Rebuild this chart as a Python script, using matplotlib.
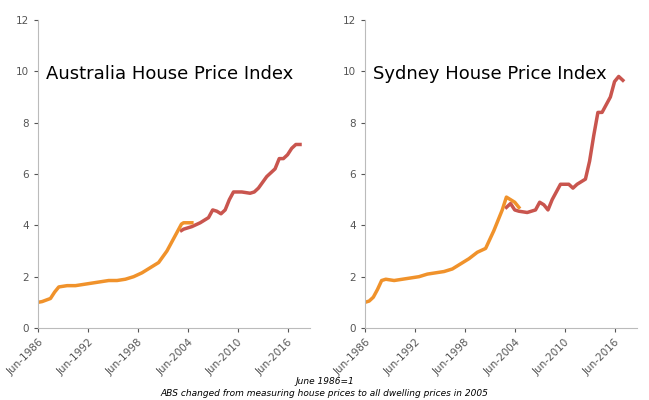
import matplotlib as mpl
mpl.use('Agg')
import matplotlib.pyplot as plt

# years as decimal (Jun-1986 = 1986.5)
aus_old_x = [1986.5, 1987, 1988, 1988.5, 1989, 1990, 1991, 1992, 1993, 1994, 1995, 1996, 1997,
             1998, 1999, 2000, 2001, 2002, 2003, 2003.75, 2004, 2005]
aus_old_y = [1.0, 1.03, 1.15, 1.4, 1.6, 1.65, 1.65, 1.7, 1.75, 1.8, 1.85, 1.85, 1.9,
             2.0, 2.15, 2.35, 2.55, 3.0, 3.6, 4.05, 4.1, 4.1]
aus_new_x = [2003.75, 2004, 2005, 2006, 2007, 2007.5, 2008, 2008.5, 2009, 2009.5, 2010, 2011,
             2012, 2012.5, 2013, 2014, 2015, 2015.5, 2016, 2016.5, 2017, 2017.5, 2018]
aus_new_y = [3.8, 3.85, 3.95, 4.1, 4.3, 4.6, 4.55, 4.45, 4.6, 5.0, 5.3, 5.3,
             5.25, 5.3, 5.45, 5.9, 6.2, 6.6, 6.6, 6.75, 7.0, 7.15, 7.15]

syd_old_x = [1986.5, 1987, 1987.5, 1988, 1988.5, 1989, 1990, 1991, 1992, 1993, 1994, 1995, 1996,
             1997, 1998, 1999, 2000, 2001, 2002, 2003, 2003.5, 2004, 2004.5, 2005]
syd_old_y = [1.0, 1.05, 1.2, 1.5, 1.85, 1.9, 1.85, 1.9, 1.95, 2.0, 2.1, 2.15, 2.2,
             2.3, 2.5, 2.7, 2.95, 3.1, 3.8, 4.6, 5.1, 5.0, 4.9, 4.7]
syd_new_x = [2003.5, 2004, 2004.5, 2005, 2006, 2007, 2007.5, 2008, 2008.5, 2009, 2010, 2011,
             2011.5, 2012, 2013, 2013.5, 2014, 2014.5, 2015, 2015.5, 2016, 2016.5, 2017, 2017.5]
syd_new_y = [4.7, 4.85, 4.6, 4.55, 4.5, 4.6, 4.9, 4.8, 4.6, 5.0, 5.6, 5.6,
             5.45, 5.6, 5.8, 6.5, 7.5, 8.4, 8.4, 8.7, 9.0, 9.6, 9.8, 9.65]

tick_pos = [1986.5, 1992.5, 1998.5, 2004.5, 2010.5, 2016.5]
tick_labels = ['Jun-1986', 'Jun-1992', 'Jun-1998', 'Jun-2004', 'Jun-2010', 'Jun-2016']

orange = '#F0922B'
red = '#C9554E'

fig = plt.figure(figsize=(6.49, 4.0), dpi=100)
ax1 = fig.add_axes([38/649, 72/400, 272/649, 308/400])
ax2 = fig.add_axes([365/649, 72/400, 272/649, 308/400])

panels = [(ax1, 'Australia House Price Index', aus_old_x, aus_old_y, aus_new_x, aus_new_y),
          (ax2, 'Sydney House Price Index', syd_old_x, syd_old_y, syd_new_x, syd_new_y)]

for ax, title, ox, oy, nx, ny in panels:
    ax.plot(nx, ny, color=red, lw=2.5)
    ax.plot(ox, oy, color=orange, lw=2.5)
    ax.set_xlim(1986.5, 2019.2)
    ax.set_ylim(0, 12)
    ax.set_yticks(range(0, 13, 2))
    ax.set_xticks(tick_pos)
    ax.set_xticklabels(tick_labels, rotation=45, ha='right', rotation_mode='anchor')
    ax.tick_params(colors='#555555', labelsize=7.5, length=3)
    for s in ['top', 'right']:
        ax.spines[s].set_visible(False)
    for s in ['left', 'bottom']:
        ax.spines[s].set_color('#BBBBBB')
    ax.text(0.03, 0.81, title, transform=ax.transAxes, fontsize=13, color='black')

fig.text(0.5, 0.04, 'June 1986=1', ha='center', fontsize=6.5, style='italic')
fig.text(0.5, 0.01, 'ABS changed from measuring house prices to all dwelling prices in 2005',
         ha='center', fontsize=6.5, style='italic')

plt.savefig('out.png', dpi=100)
